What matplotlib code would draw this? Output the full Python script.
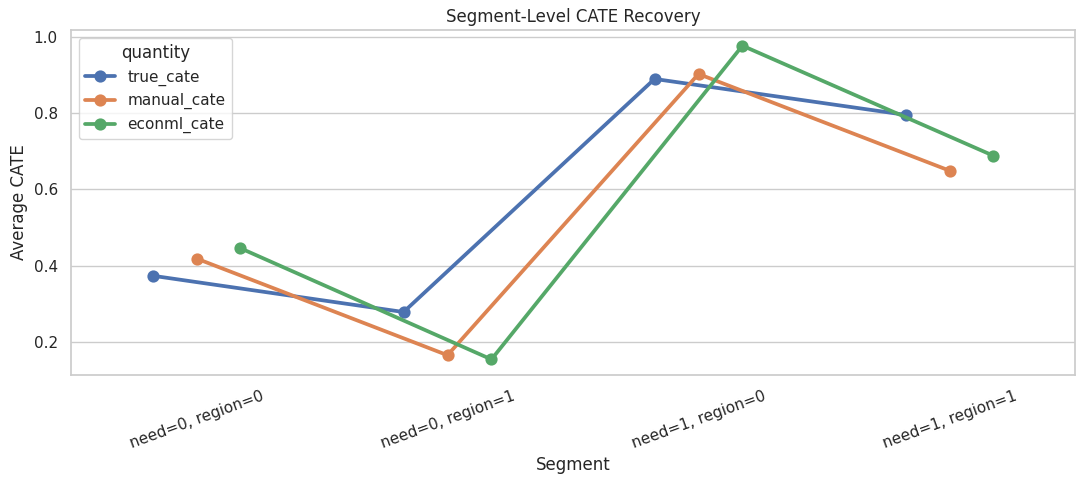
import pandas as pd
import seaborn as sns
from matplotlib import pyplot as plt

segments = ["need=0, region=0", "need=0, region=1", "need=1, region=0", "need=1, region=1"]
true_cate = [0.374, 0.279, 0.889, 0.795]
manual_cate = [0.419, 0.166, 0.902, 0.649]
econml_cate = [0.446, 0.155, 0.976, 0.688]

rows = []
for name, vals in [("true_cate", true_cate), ("manual_cate", manual_cate), ("econml_cate", econml_cate)]:
    for seg, v in zip(segments, vals):
        rows.append({"segment": seg, "quantity": name, "value": v})
df = pd.DataFrame(rows)

sns.set_theme(style="whitegrid")
fig, ax = plt.subplots(figsize=(10.84, 4.84), dpi=100)
sns.pointplot(data=df, x="segment", y="value", hue="quantity", order=segments,
              dodge=0.35, ax=ax)
ax.set_title("Segment-Level CATE Recovery")
ax.set_xlabel("Segment")
ax.set_ylabel("Average CATE")
plt.setp(ax.get_xticklabels(), rotation=20)
plt.subplots_adjust(left=0.0655, right=0.9917, top=0.938, bottom=0.225)
plt.savefig("out.png")
